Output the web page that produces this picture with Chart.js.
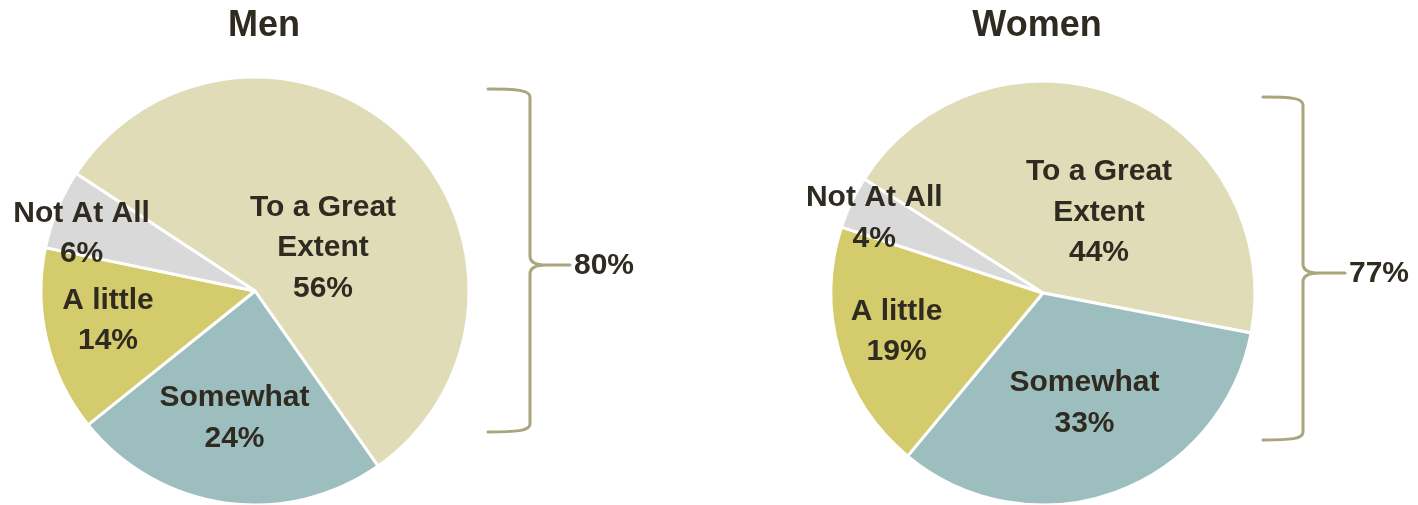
<!DOCTYPE html>
<html>
<head>
<meta charset="utf-8">
<script src="https://cdn.jsdelivr.net/npm/chart.js@4/dist/chart.umd.min.js"></script>
<style>
  html, body { margin: 0; padding: 0; background: #ffffff; }
  #wrap { position: relative; width: 1418px; height: 505px; overflow: hidden; }
  .pane { position: absolute; top: 0; width: 709px; height: 505px; }
</style>
</head>
<body>
<div id="wrap">
  <div class="pane" style="left:0"><canvas id="men"></canvas></div>
  <div class="pane" style="left:709px"><canvas id="women"></canvas></div>
</div>
<script>
// ---- data ----
const categories = ['To a Great Extent', 'Somewhat', 'A little', 'Not At All'];
const categoryLines = [['To a Great', 'Extent'], ['Somewhat'], ['A little'], ['Not At All']];
const menValues = [56, 24, 14, 6];
const womenValues = [44, 33, 19, 4];
const chartTitles = ['Men', 'Women'];
const bracketCategoryCount = 2; // bracket sums the first two categories

// ---- styles ----
const sliceColors = ['#E0DCB8', '#9DBEBE', '#D4CB6C', '#D9D9D9'];
const textColor = '#302B21';
const bracketColor = '#A9A57D';
const fontFamily = '"Liberation Sans", Arial, sans-serif';

const overlayPlugin = {
  id: 'overlay',
  afterDatasetsDraw(chart, args, opts) {
    const ctx = chart.ctx;
    const meta = chart.getDatasetMeta(0);
    const values = chart.data.datasets[0].data;
    ctx.save();
    ctx.fillStyle = textColor;
    ctx.textAlign = 'center';
    ctx.textBaseline = 'middle';
    ctx.font = 'bold 30px ' + fontFamily;
    meta.data.forEach((arc, i) => {
      const p = arc.getProps(['x', 'y', 'startAngle', 'endAngle', 'outerRadius'], true);
      const place = opts.placement[i];
      const mid = (p.startAngle + p.endAngle) / 2 + place[1] * Math.PI / 180;
      const cx = p.x + Math.cos(mid) * p.outerRadius * place[0];
      const cy = p.y + Math.sin(mid) * p.outerRadius * place[0] + 2;
      const lines = categoryLines[i].concat([values[i] + '%']);
      const lh = 40.5;
      const top = cy - (lines.length - 1) * lh / 2;
      lines.forEach((t, k) => ctx.fillText(t, cx, top + k * lh));
    });

    // title
    ctx.font = 'bold 36px ' + fontFamily;
    ctx.textBaseline = 'alphabetic';
    ctx.fillText(opts.title, opts.titleX, 36);

    // bracket
    const b = opts.bracket;
    ctx.strokeStyle = bracketColor;
    ctx.lineWidth = 3;
    ctx.lineCap = 'round';
    ctx.beginPath();
    ctx.moveTo(b.x0, b.yTop);
    ctx.bezierCurveTo(b.x0 + 28, b.yTop, b.x1, b.yTop + 1, b.x1, b.yTop + 8);
    ctx.lineTo(b.x1, b.yTip - 9);
    ctx.quadraticCurveTo(b.x1, b.yTip, b.x1 + 16, b.yTip);
    ctx.lineTo(b.xt, b.yTip);
    ctx.moveTo(b.x1 + 16, b.yTip);
    ctx.quadraticCurveTo(b.x1, b.yTip, b.x1, b.yTip + 9);
    ctx.lineTo(b.x1, b.yBot - 8);
    ctx.bezierCurveTo(b.x1, b.yBot - 1, b.x0 + 28, b.yBot, b.x0, b.yBot);
    ctx.stroke();

    let total = 0;
    for (let i = 0; i < bracketCategoryCount; i++) total += values[i];
    ctx.font = 'bold 30px ' + fontFamily;
    ctx.textAlign = 'left';
    ctx.textBaseline = 'middle';
    ctx.fillText(total + '%', b.xt + 4, b.yTip + 1);
    ctx.restore();
  }
};

function makePie(id, values, title, cfg) {
  return new Chart(document.getElementById(id), {
    type: 'pie',
    data: {
      labels: categories,
      datasets: [{
        data: values,
        backgroundColor: sliceColors,
        borderColor: '#ffffff',
        borderWidth: 3
      }]
    },
    options: {
      responsive: true,
      maintainAspectRatio: false,
      animation: false,
      events: [],
      rotation: cfg.rotation,
      radius: cfg.radius,
      layout: { padding: cfg.padding },
      plugins: {
        legend: { display: false },
        tooltip: { enabled: false },
        title: { display: false },
        overlay: {
          title: title,
          titleX: cfg.titleX,
          placement: cfg.placement,
          bracket: cfg.bracket
        }
      }
    },
    plugins: [overlayPlugin]
  });
}

makePie('men', menValues, chartTitles[0], {
  rotation: -56.7,
  radius: 214,
  padding: { left: 41, top: 77, right: 240, bottom: 0 },
  titleX: 264,
  placement: [[0.381, 12.4], [0.592, 1.2], [0.699, 2.9], [0.856, -3.7]],
  bracket: { x0: 488, x1: 530, xt: 570, yTop: 89, yBot: 432, yTip: 265 }
});

makePie('women', womenValues, chartTitles[1], {
  rotation: -57.5,
  radius: 212,
  padding: { left: 122, top: 81, right: 163, bottom: 0 },
  titleX: 328,
  placement: [[0.470, 12.5], [0.546, -1.3], [0.712, 2.1], [0.874, -0.9]],
  bracket: { x0: 554, x1: 594, xt: 636, yTop: 97, yBot: 440, yTip: 273 }
});
</script>
</body>
</html>
